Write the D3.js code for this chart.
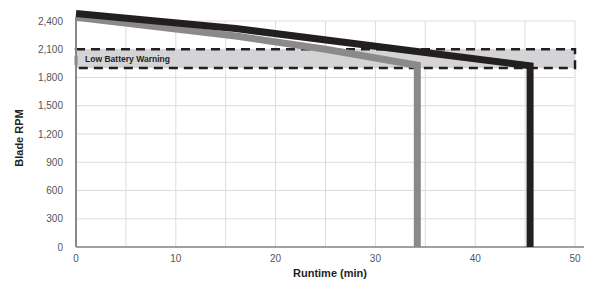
<!DOCTYPE html>
<html>
<head>
<meta charset="utf-8">
<script src="https://cdn.jsdelivr.net/npm/d3@7"></script>
<style>
  body { margin: 0; background: #fff; }
  svg { display: block; }
</style>
</head>
<body>
<script>
// chart data
var yTicks = [0, 300, 600, 900, 1200, 1500, 1800, 2100, 2400];
var xTicks = [0, 10, 20, 30, 40, 50];
var xGrid = [5, 10, 15, 20, 25, 30, 35, 40, 45, 50];
var warnBand = [1900, 2100];
var warnLabel = "Low Battery Warning";

// runtime (min) / blade rpm
var blackRuntime = [0, 16, 45.5, 45.5];
var blackRpm = [2480, 2320, 1925, 0];
var grayRuntime = [0, 16, 25, 34.2, 34.2];
var grayRpm = [2440, 2240, 2100, 1930, 0];

var width = 598, height = 286;

var x = d3.scaleLinear().domain([0, 50]).range([76, 575]);
var y = d3.scaleLinear().domain([0, 2400]).range([247, 21]);

var svg = d3.select("body").append("svg")
    .attr("width", width)
    .attr("height", height);

// grid
svg.append("g").selectAll("line")
    .data(yTicks.slice(1))
    .enter().append("line")
    .attr("x1", x(0)).attr("x2", x(50))
    .attr("y1", d => y(d)).attr("y2", d => y(d))
    .attr("stroke", "#dcdcdc").attr("stroke-width", 1);

svg.append("g").selectAll("line")
    .data(xGrid)
    .enter().append("line")
    .attr("x1", d => x(d)).attr("x2", d => x(d))
    .attr("y1", y(0)).attr("y2", y(2400))
    .attr("stroke", "#dcdcdc").attr("stroke-width", 1);

// warning band
svg.append("rect")
    .attr("x", x(0))
    .attr("y", y(warnBand[1]))
    .attr("width", x(50) - x(0))
    .attr("height", y(warnBand[0]) - y(warnBand[1]))
    .attr("fill", "#d4d4d7")
    .attr("stroke", "#231f20")
    .attr("stroke-width", 2.5)
    .attr("stroke-dasharray", "9,6");

svg.append("text")
    .attr("x", x(0) + 9)
    .attr("y", y((warnBand[0] + warnBand[1]) / 2))
    .attr("dy", "0.35em")
    .attr("font-family", "Liberation Sans, Arial, sans-serif")
    .attr("font-weight", "bold")
    .attr("font-size", 9.5)
    .attr("textLength", 85)
    .attr("lengthAdjust", "spacingAndGlyphs")
    .attr("fill", "#231f20")
    .text(warnLabel);

// axes lines
svg.append("line")
    .attr("x1", x(0)).attr("x2", x(50) + 9)
    .attr("y1", y(0)).attr("y2", y(0))
    .attr("stroke", "#444").attr("stroke-width", 1.2);

svg.append("line")
    .attr("x1", x(0)).attr("x2", x(0))
    .attr("y1", y(0)).attr("y2", y(2400) - 4)
    .attr("stroke", "#888").attr("stroke-width", 2);

// runtime lines
var line = d3.line()
    .x(d => x(d[0]))
    .y(d => y(d[1]));

var series = [
  { t: grayRuntime, r: grayRpm, color: "#8a8a8a" },
  { t: blackRuntime, r: blackRpm, color: "#231f20" }
];

svg.selectAll(".runLine")
    .data(series)
    .enter().append("path")
    .attr("class", "runLine")
    .attr("d", d => line(d.t.map((v, i) => [v, d.r[i]])))
    .attr("fill", "none")
    .attr("stroke", d => d.color)
    .attr("stroke-width", 7)
    .attr("stroke-linejoin", "miter");

// tick labels
svg.append("g").selectAll("text")
    .data(yTicks)
    .enter().append("text")
    .attr("x", 63)
    .attr("y", d => y(d))
    .attr("dy", "0.35em")
    .attr("text-anchor", "end")
    .attr("font-family", "Liberation Sans, Arial, sans-serif")
    .attr("font-size", 10)
    .attr("fill", "#555")
    .text(d => d3.format(",")(d));

svg.append("g").selectAll("text")
    .data(xTicks)
    .enter().append("text")
    .attr("x", d => x(d))
    .attr("y", 262)
    .attr("text-anchor", "middle")
    .attr("font-family", "Liberation Sans, Arial, sans-serif")
    .attr("font-size", 10)
    .attr("fill", "#555")
    .text(d => d);

// axis titles
svg.append("text")
    .attr("x", 330)
    .attr("y", 277)
    .attr("text-anchor", "middle")
    .attr("font-family", "Liberation Sans, Arial, sans-serif")
    .attr("font-weight", "bold")
    .attr("font-size", 11)
    .attr("fill", "#231f20")
    .text("Runtime (min)");

svg.append("text")
    .attr("transform", "translate(23,138) rotate(-90)")
    .attr("text-anchor", "middle")
    .attr("font-family", "Liberation Sans, Arial, sans-serif")
    .attr("font-weight", "bold")
    .attr("font-size", 11)
    .attr("fill", "#231f20")
    .text("Blade RPM");
</script>
</body>
</html>
